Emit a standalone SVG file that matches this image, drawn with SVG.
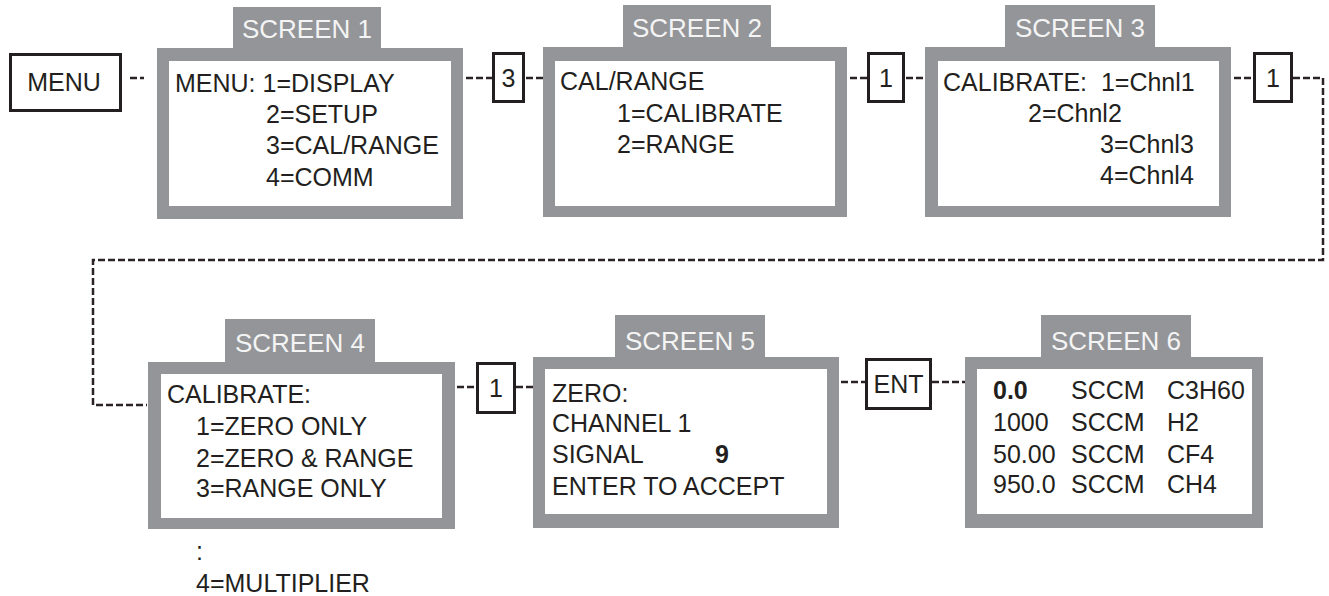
<svg xmlns="http://www.w3.org/2000/svg" width="1329" height="596" viewBox="0 0 1329 596">
<style>
text{font-family:"Liberation Sans",Arial,sans-serif;font-size:25px;fill:#231f20}
.frame{fill:#939598}
.inner{fill:#fff}
.tab{fill:#f4f4f4;font-size:26px;text-anchor:middle}
.key{fill:#fff;stroke:#231f20;stroke-width:3}
.kt{text-anchor:middle}
.b{font-weight:bold}
.con{fill:none;stroke:#2a2224;stroke-width:2.5;stroke-dasharray:7 3}
</style>
<rect width="1329" height="596" fill="#fff"/>
<g id="connectors">
<line class="con" x1="130" y1="78" x2="144" y2="78"/>
<line class="con" x1="466" y1="78" x2="492" y2="78"/>
<line class="con" x1="526" y1="78" x2="543" y2="78"/>
<line class="con" x1="850" y1="78" x2="867" y2="78"/>
<line class="con" x1="906" y1="78" x2="925" y2="78"/>
<line class="con" x1="1234" y1="78" x2="1253" y2="78"/>
<path class="con" d="M1293,78 H1323 V260 H93 V405 H147"/>
<line class="con" x1="457" y1="387" x2="476" y2="387"/>
<line class="con" x1="516" y1="387" x2="533" y2="387"/>
<line class="con" x1="841" y1="382" x2="865" y2="382"/>
<line class="con" x1="932" y1="382" x2="965" y2="382"/>
</g>
<g id="menu">
<rect class="key" x="10.5" y="54.5" width="110" height="56"/>
<text class="kt" x="64" y="91">MENU</text>
</g>
<g id="screen1">
<rect class="frame" x="233" y="7" width="148" height="42"/>
<rect class="frame" x="157" y="48" width="306" height="171"/>
<rect class="inner" x="169" y="61" width="282" height="145"/>
<text class="tab" x="307" y="38">SCREEN 1</text>
<text x="175" y="92">MENU: 1=DISPLAY</text>
<text x="266" y="123">2=SETUP</text>
<text x="266" y="154">3=CAL/RANGE</text>
<text x="266" y="186">4=COMM</text>
</g>
<g id="key3">
<rect class="key" x="493.5" y="53.5" width="30" height="48"/>
<text class="kt" x="508.5" y="87">3</text>
</g>
<g id="screen2">
<rect class="frame" x="623" y="5" width="148" height="43"/>
<rect class="frame" x="543" y="47" width="304" height="170"/>
<rect class="inner" x="555" y="61" width="280" height="145"/>
<text class="tab" x="697" y="37">SCREEN 2</text>
<text x="560" y="90">CAL/RANGE</text>
<text x="617" y="122">1=CALIBRATE</text>
<text x="617" y="153">2=RANGE</text>
</g>
<g id="key1a">
<rect class="key" x="868.5" y="53.5" width="35" height="48"/>
<text class="kt" x="886" y="87">1</text>
</g>
<g id="screen3">
<rect class="frame" x="1005" y="5" width="150" height="43"/>
<rect class="frame" x="925" y="47" width="306" height="170"/>
<rect class="inner" x="938" y="61" width="281" height="145"/>
<text class="tab" x="1080" y="37">SCREEN 3</text>
<text x="943" y="91" xml:space="preserve">CALIBRATE:  1=Chnl1</text>
<text x="1028" y="122">2=Chnl2</text>
<text x="1100" y="153">3=Chnl3</text>
<text x="1100" y="184">4=Chnl4</text>
</g>
<g id="key1b">
<rect class="key" x="1254.5" y="53.5" width="37" height="48"/>
<text class="kt" x="1273" y="87">1</text>
</g>
<g id="screen4">
<rect class="frame" x="225" y="319" width="150" height="44"/>
<rect class="frame" x="148" y="362" width="307" height="167"/>
<rect class="inner" x="161" y="374" width="281" height="144"/>
<text class="tab" x="300" y="352">SCREEN 4</text>
<text x="167" y="403">CALIBRATE:</text>
<text x="196" y="435">1=ZERO ONLY</text>
<text x="196" y="467">2=ZERO &amp; RANGE</text>
<text x="196" y="497">3=RANGE ONLY</text>
<text x="196" y="560">:</text>
<text x="196" y="592">4=MULTIPLIER</text>
</g>
<g id="key1c">
<rect class="key" x="477.5" y="363.5" width="37" height="49"/>
<text class="kt" x="496" y="397">1</text>
</g>
<g id="screen5">
<rect class="frame" x="615" y="315" width="150" height="43"/>
<rect class="frame" x="533" y="357" width="306" height="171"/>
<rect class="inner" x="545" y="369" width="282" height="145"/>
<text class="tab" x="690" y="350">SCREEN 5</text>
<text x="552" y="402">ZERO:</text>
<text x="552" y="432">CHANNEL 1</text>
<text x="552" y="463">SIGNAL</text>
<text class="b" x="715" y="463">9</text>
<text x="552" y="495">ENTER TO ACCEPT</text>
</g>
<g id="ent">
<rect class="key" x="866.5" y="359.5" width="64" height="49"/>
<text class="kt" x="898.5" y="393">ENT</text>
</g>
<g id="screen6">
<rect class="frame" x="1041" y="315" width="150" height="43"/>
<rect class="frame" x="965" y="357" width="298" height="171"/>
<rect class="inner" x="977" y="369" width="275" height="145"/>
<text class="tab" x="1116" y="350">SCREEN 6</text>
<text class="b" x="993" y="399">0.0</text>
<text x="1071" y="399">SCCM</text>
<text x="1167" y="399">C3H60</text>
<text x="993" y="431">1000</text>
<text x="1071" y="431">SCCM</text>
<text x="1167" y="431">H2</text>
<text x="993" y="463">50.00</text>
<text x="1071" y="463">SCCM</text>
<text x="1167" y="463">CF4</text>
<text x="993" y="493">950.0</text>
<text x="1071" y="493">SCCM</text>
<text x="1167" y="493">CH4</text>
</g>
</svg>
